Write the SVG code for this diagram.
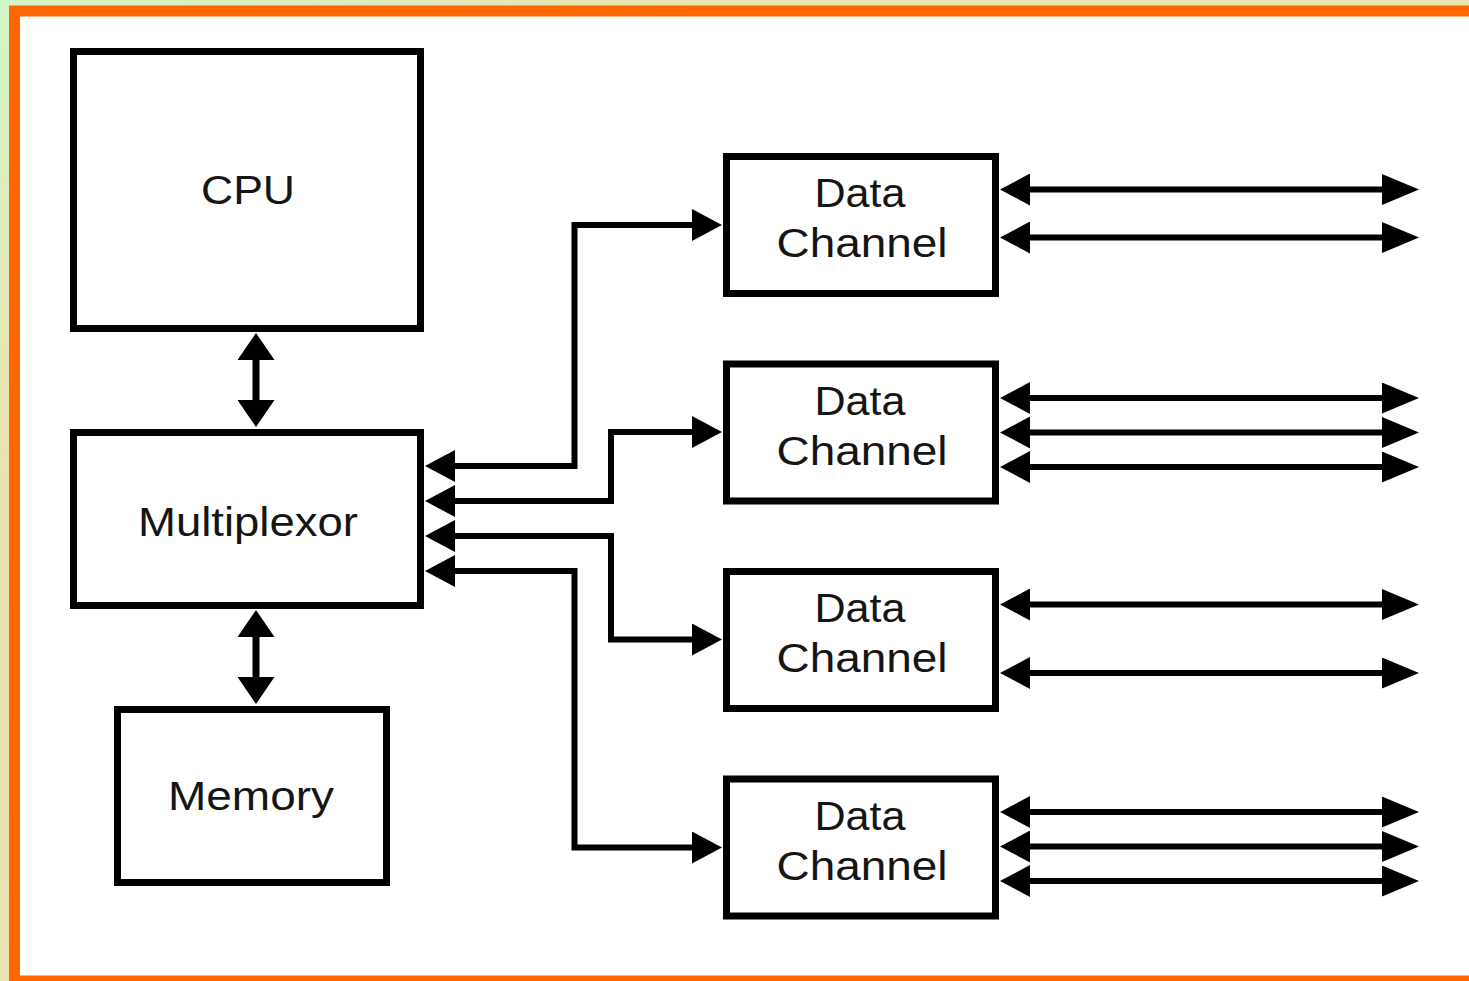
<svg xmlns="http://www.w3.org/2000/svg" width="1469" height="981" viewBox="0 0 1469 981">
  <defs>
    <linearGradient id="bg" x1="0" y1="0" x2="1" y2="1">
      <stop offset="0" stop-color="#d2f6c6"/>
      <stop offset="0.25" stop-color="#e9e2af"/>
      <stop offset="1" stop-color="#e8e4b2"/>
    </linearGradient>
    <marker id="mA" viewBox="0 0 30 32" refX="1" refY="16" markerWidth="30" markerHeight="32" markerUnits="userSpaceOnUse" orient="auto-start-reverse">
      <path d="M0,0 L30,16 L0,32 Z" fill="#000"/>
    </marker>
    <marker id="mR" viewBox="0 0 37 31" refX="1" refY="15.5" markerWidth="37" markerHeight="31" markerUnits="userSpaceOnUse" orient="auto-start-reverse">
      <path d="M0,0 L37,15.5 L0,31 Z" fill="#000"/>
    </marker>
    <marker id="mV" viewBox="0 0 27 37" refX="1" refY="18.5" markerWidth="27" markerHeight="37" markerUnits="userSpaceOnUse" orient="auto-start-reverse">
      <path d="M0,0 L27,18.5 L0,37 Z" fill="#000"/>
    </marker>
    <style>
      .box { fill: #fff; stroke: #000; stroke-width: 7; }
      .lbl { font-family: "Liberation Sans", Arial, Helvetica, sans-serif; font-size: 40px; fill: #151515; text-anchor: middle; }
      .con { fill: none; stroke: #000; stroke-width: 6; stroke-linejoin: miter; }
      .bi { marker-start: url(#mA); marker-end: url(#mA); }
      .out { marker-start: url(#mA); marker-end: url(#mR); }
      .vert { fill: none; stroke: #000; stroke-width: 7; marker-start: url(#mV); marker-end: url(#mV); }
    </style>
  </defs>

  <rect x="0" y="0" width="1469" height="981" fill="url(#bg)"/>
  <rect x="14.5" y="11" width="1470" height="970" fill="#fff" stroke="#ff6600" stroke-width="11"/>

  <g id="cpu">
    <rect class="box" x="73.5" y="51.5" width="347" height="277"/>
    <text class="lbl" x="248" y="204" textLength="94" lengthAdjust="spacingAndGlyphs">CPU</text>
  </g>
  <g id="multiplexor">
    <rect class="box" x="73.5" y="432.5" width="347" height="173"/>
    <text class="lbl" x="248" y="536" textLength="220" lengthAdjust="spacingAndGlyphs">Multiplexor</text>
  </g>
  <g id="memory">
    <rect class="box" x="117.5" y="709.5" width="269" height="173"/>
    <text class="lbl" x="251" y="810" textLength="166" lengthAdjust="spacingAndGlyphs">Memory</text>
  </g>
  <g id="dc1">
    <rect class="box" x="726.5" y="156.5" width="269" height="137"/>
    <text class="lbl" x="860" y="207" textLength="91" lengthAdjust="spacingAndGlyphs">Data</text>
    <text class="lbl" x="862" y="257" textLength="171" lengthAdjust="spacingAndGlyphs">Channel</text>
  </g>
  <g id="dc2">
    <rect class="box" x="726.5" y="364" width="269" height="137"/>
    <text class="lbl" x="860" y="414.5" textLength="91" lengthAdjust="spacingAndGlyphs">Data</text>
    <text class="lbl" x="862" y="464.5" textLength="171" lengthAdjust="spacingAndGlyphs">Channel</text>
  </g>
  <g id="dc3">
    <rect class="box" x="726.5" y="571.5" width="269" height="137"/>
    <text class="lbl" x="860" y="622" textLength="91" lengthAdjust="spacingAndGlyphs">Data</text>
    <text class="lbl" x="862" y="672" textLength="171" lengthAdjust="spacingAndGlyphs">Channel</text>
  </g>
  <g id="dc4">
    <rect class="box" x="726.5" y="779" width="269" height="137"/>
    <text class="lbl" x="860" y="829.5" textLength="91" lengthAdjust="spacingAndGlyphs">Data</text>
    <text class="lbl" x="862" y="879.5" textLength="171" lengthAdjust="spacingAndGlyphs">Channel</text>
  </g>

  <g id="connectors">
    <path class="vert" d="M256,359 V401"/>
    <path class="vert" d="M256,636 V678"/>

    <path class="con bi" d="M454,466 H574.5 V225 H693"/>
    <path class="con bi" d="M454,501 H611 V432 H693"/>
    <path class="con bi" d="M454,536 H611 V639.5 H693"/>
    <path class="con bi" d="M454,571 H574.5 V847.5 H693"/>

    <path class="con out" d="M1029,189.5 H1383"/>
    <path class="con out" d="M1029,237.5 H1383"/>

    <path class="con out" d="M1029,398 H1383"/>
    <path class="con out" d="M1029,432.5 H1383"/>
    <path class="con out" d="M1029,467 H1383"/>

    <path class="con out" d="M1029,604.5 H1383"/>
    <path class="con out" d="M1029,673 H1383"/>

    <path class="con out" d="M1029,812 H1383"/>
    <path class="con out" d="M1029,846.5 H1383"/>
    <path class="con out" d="M1029,881 H1383"/>
  </g>
</svg>
